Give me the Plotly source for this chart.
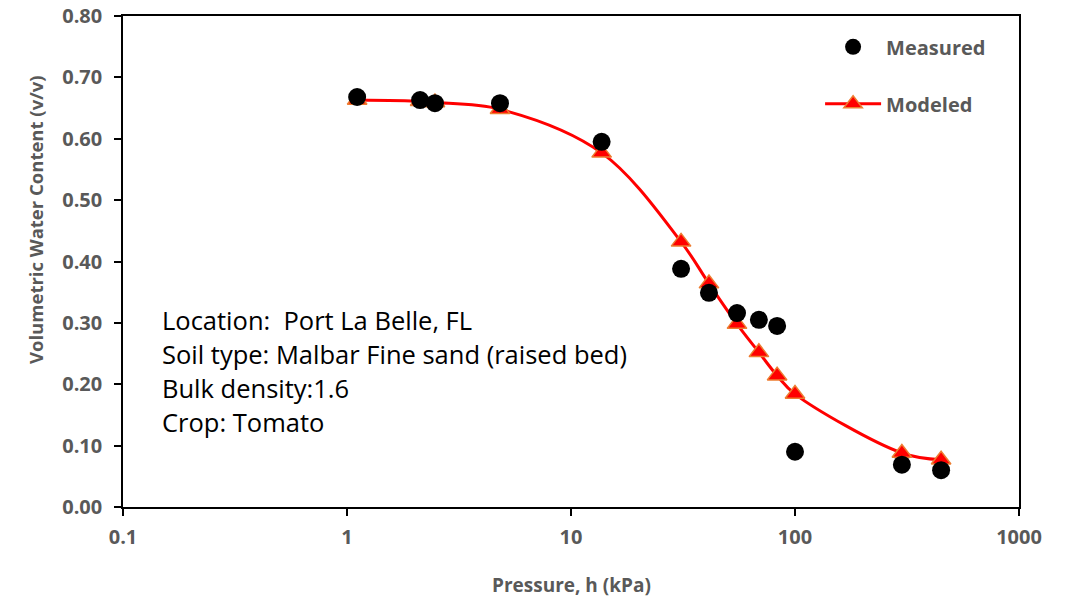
import plotly.graph_objects as go

pressure_kpa = [1.11, 2.12, 2.47, 4.82, 13.7, 31.0, 41.3, 55.1, 69.0, 83.2, 100, 300, 449]
measured = [0.668, 0.663, 0.658, 0.658, 0.595, 0.388, 0.349, 0.316, 0.305, 0.295, 0.090, 0.069, 0.060]
modeled = [0.663, 0.661, 0.659, 0.648, 0.577, 0.432, 0.364, 0.298, 0.252, 0.214, 0.184, 0.088, 0.077]

x_ticks = [0.1, 1, 10, 100, 1000]
x_ticktext = ["0.1", "1", "10", "100", "1000"]
y_ticks = [0.0, 0.1, 0.2, 0.3, 0.4, 0.5, 0.6, 0.7, 0.8]

info_lines = ["Location:  Port La Belle, FL",
              "Soil type: Malbar Fine sand (raised bed)",
              "Bulk density:1.6",
              "Crop: Tomato"]

GRAY = "#595959"
FONT = "Open Sans"

fig = go.Figure()
fig.add_trace(go.Scatter(
    x=pressure_kpa, y=modeled, name="Modeled", mode="lines+markers",
    line=dict(color="#FF0000", width=3, shape="spline", smoothing=1.0),
    marker=dict(symbol="triangle-up", size=17, color="#FF0000",
                line=dict(color="#ED7D31", width=1.5)),
    legendgroup="b", legendrank=2))
fig.add_trace(go.Scatter(
    x=pressure_kpa, y=measured, name="Measured", mode="markers",
    marker=dict(symbol="circle", size=18, color="#000000"),
    legendgroup="a", legendrank=1))

fig.update_layout(
    width=1068, height=601,
    margin=dict(l=123, r=49, t=16, b=94),
    paper_bgcolor="white", plot_bgcolor="white",
    font=dict(family=FONT, color=GRAY),
    showlegend=True,
    legend=dict(x=0.778, y=0.977, xanchor="left", yanchor="top",
                bgcolor="rgba(0,0,0,0)", traceorder="grouped", tracegroupgap=28,
                font=dict(family=FONT, size=20, color=GRAY, weight="bold"),
                itemwidth=56),
    xaxis=dict(type="log", range=[-1, 3], tickvals=x_ticks, ticktext=x_ticktext,
               showgrid=False, zeroline=False, automargin=False,
               showline=True, linecolor="black", linewidth=1.5, mirror=True,
               ticks="outside", ticklen=7, tickcolor="black", tickwidth=1.5,
               ticklabelstandoff=4,
               tickfont=dict(family=FONT, size=20, color=GRAY, weight="bold")),
    yaxis=dict(range=[0, 0.8], tickvals=y_ticks, tickformat=".2f",
               showgrid=False, zeroline=False, automargin=False,
               showline=True, linecolor="black", linewidth=1.5, mirror=True,
               ticks="outside", ticklen=7, tickcolor="black", tickwidth=1.5,
               ticklabelstandoff=8,
               tickfont=dict(family=FONT, size=20, color=GRAY, weight="bold")),
)

# axis titles
fig.add_annotation(xref="paper", yref="paper", x=0.5, y=(507 - 585) / 491,
                   xanchor="center", yanchor="middle", showarrow=False,
                   text="Pressure, h (kPa)",
                   font=dict(family=FONT, size=19, color=GRAY, weight="bold"))
fig.add_annotation(xref="paper", yref="paper", x=(35 - 123) / 896, y=(507 - 220) / 491,
                   xanchor="center", yanchor="middle", showarrow=False, textangle=-90,
                   text="Volumetric Water Content (v/v)",
                   font=dict(family=FONT, size=18.5, color=GRAY, weight="bold"))

line_centers_px = [320, 354, 388, 422]
for txt, yc in zip(info_lines, line_centers_px):
    fig.add_annotation(
        xref="paper", yref="paper", x=(160 - 123) / 896, y=(507 - yc) / 491,
        xanchor="left", yanchor="middle", align="left", showarrow=False,
        text=txt, font=dict(family=FONT, size=25.5, color="black"))

fig.write_html("out.html")
